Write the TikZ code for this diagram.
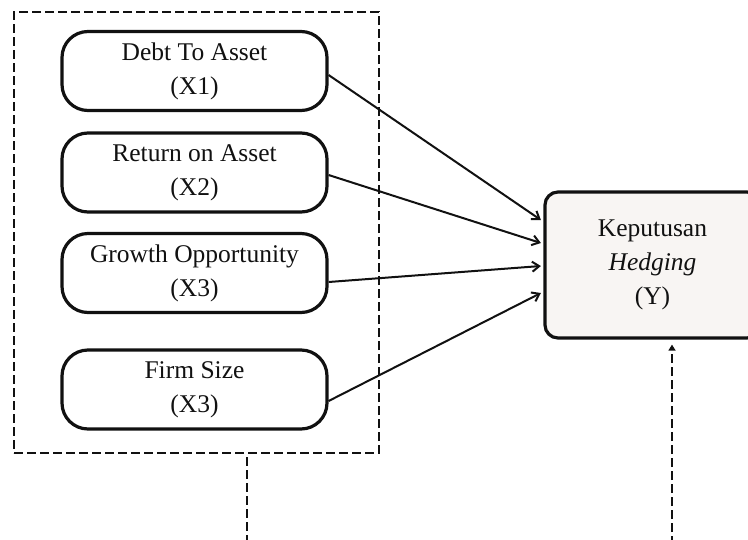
\documentclass[tikz,border=0pt]{standalone}
\usepackage{fontspec}
\setmainfont{Liberation Serif}
\usetikzlibrary{arrows.meta}
\definecolor{yfill}{HTML}{F8F5F3}
\definecolor{ink}{HTML}{111111}
\begin{document}
\begin{tikzpicture}[x=1pt,y=-1pt,
  txt/.style={align=center,font=\fontsize{25.5}{34}\selectfont,inner sep=0pt,text=ink},
  varbox/.style={txt,draw=ink,line width=3.2pt,rounded corners=26pt,minimum width=265pt,minimum height=79pt},
  ybox/.style={txt,draw=ink,line width=3.2pt,rounded corners=13pt,fill=yfill,minimum width=215pt,minimum height=146pt,text width=215pt},
  grpbox/.style={draw=ink,line width=2pt,dash pattern=on 9pt off 4pt,minimum width=365pt,minimum height=441pt,inner sep=0pt},
  link/.style={draw=ink,line width=2pt,-{Straight Barb[length=7pt,width=10pt,line width=2pt]}},
  dlink/.style={draw=ink,line width=2pt,dash pattern=on 9pt off 4pt}
]
\useasboundingbox (0,0) rectangle (748,539);
\clip (0,0) rectangle (748,539);
\node[grpbox] (grp) at (196.5,232.5) {};
\node[varbox] (x1) at (194.5,71) {Debt To Asset\\(X1)};
\node[varbox] (x2) at (194.5,172.5) {Return on Asset\\(X2)};
\node[varbox] (x3) at (194.5,273) {Growth Opportunity\\(X3)};
\node[varbox] (x4) at (194.5,389.5) {Firm Size\\(X3)};
\node[ybox] (y) at (652.5,265) {Keputusan\\\textit{Hedging}\\(Y)};
\draw[link] ([yshift=-4pt]x1.east) -- ([xshift=-2.5pt,yshift=45pt]y.west);
\draw[link] ([yshift=-2.5pt]x2.east) -- ([xshift=-2.5pt,yshift=22pt]y.west);
\draw[link] ([yshift=-9pt]x3.east) -- ([xshift=-2.5pt,yshift=-1pt]y.west);
\draw[link] ([yshift=-11.5pt]x4.east) -- ([xshift=-2.5pt,yshift=-28pt]y.west);
\coordinate (d1) at (247,457);
\coordinate (d2) at (247,545);
\draw[dlink] (d1) -- (d2);
\coordinate (d3) at (672,545);
\draw[dlink,-{Triangle[length=6pt,width=7pt]}] (d3) -- ([xshift=19.5pt,yshift=-5pt]y.south);
\end{tikzpicture}
\end{document}
